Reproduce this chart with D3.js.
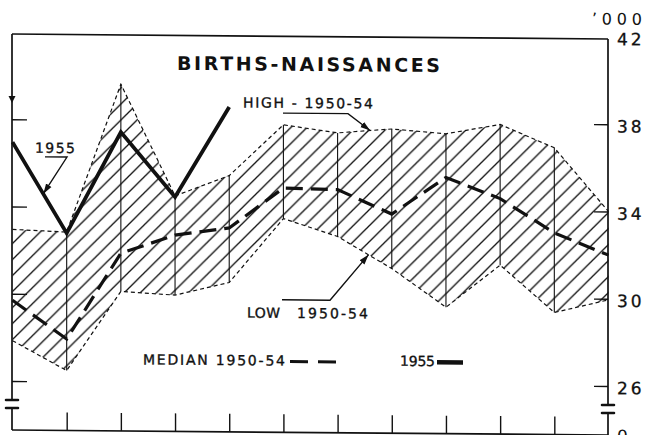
<!DOCTYPE html>
<html>
<head>
<meta charset="utf-8">
<script src="https://cdn.jsdelivr.net/npm/d3@7"></script>
<style>
  body { margin: 0; background: #fff; }
  svg { display: block; }
  text { font-family: "DejaVu Sans", sans-serif; fill: #111; }
</style>
</head>
<body>
<div id="chart"></div>
<script>
const months = ['Jan', 'Feb', 'Mar', 'Apr', 'May', 'Jun', 'Jul', 'Aug', 'Sep', 'Oct', 'Nov', 'Dec'];
// births, thousands
const high = [32.95, 32.85, 39.65, 34.55, 35.5, 37.85, 37.5, 37.7, 37.5, 37.95, 36.9, 34.0];
const low = [27.85, 26.5, 30.15, 30.0, 30.6, 33.55, 32.75, 31.3, 29.55, 31.5, 29.35, 29.95];
const median = [29.7, 27.95, 31.9, 32.75, 33.1, 34.95, 34.9, 33.8, 35.5, 34.55, 33.0, 32.0];
const births1955 = [36.95, 32.8, 37.45, 34.5, 38.65]; // Jan - May
const yTicks = [26, 30, 34, 38, 42];

const W = 647, H = 435;
const frame = { left: 12, right: 608, top: 34, bottom: 430 };
const breakAt = [400, 408];
// the original drawing is a bit tilted, right side sits ~5px lower
const skew = 5 / 595;

const svg = d3.select('#chart')
  .append('svg')
  .attr('width', W)
  .attr('height', H);

const defs = svg.append('defs');

defs.append('pattern')
  .attr('id', 'hatch')
  .attr('patternUnits', 'userSpaceOnUse')
  .attr('width', 16)
  .attr('height', 16)
  .append('path')
  .attr('d', 'M-4,4 L4,-4 M0,16 L16,0 M12,20 L20,12')
  .attr('stroke', '#111')
  .attr('stroke-width', 1.25);

defs.append('marker')
  .attr('id', 'arrow')
  .attr('viewBox', '0 0 10 10')
  .attr('refX', 10)
  .attr('refY', 5)
  .attr('markerWidth', 10)
  .attr('markerHeight', 10)
  .attr('markerUnits', 'userSpaceOnUse')
  .attr('orient', 'auto')
  .append('path')
  .attr('d', 'M0,1.8 L10,5 L0,8.2 Z')
  .attr('fill', '#111');

const g = svg.append('g')
  .attr('transform', 'translate(0,' + (-skew * frame.left) + ') skewY(' + (Math.atan(skew) * 180 / Math.PI) + ')');

const x = d3.scalePoint().domain(months).range([12.5, 608.5]);
const y = d3.scaleLinear().domain([26, 42]).range([381, 32]);
const xi = i => x(months[0]) + i * x.step();

// hatched band between low and high
const idx = d3.range(months.length);
g.append('path')
  .datum(idx)
  .attr('fill', 'url(#hatch)')
  .attr('d', d3.area()
    .x(i => x(months[i]))
    .y0(i => y(low[i]))
    .y1(i => y(high[i])));

// month verticals inside the band
g.append('g')
  .selectAll('line')
  .data(idx.slice(1, -1))
  .enter()
  .append('line')
  .attr('x1', i => x(months[i]))
  .attr('x2', i => x(months[i]))
  .attr('y1', i => y(low[i]))
  .attr('y2', i => y(high[i]))
  .attr('stroke', '#111')
  .attr('stroke-width', 1.1);

const lineOf = arr => d3.line()
  .x((d, i) => x(months[i]))
  .y(d => y(d))(arr);

// high / low envelopes
[high, low].forEach(arr => {
  g.append('path')
    .attr('d', lineOf(arr))
    .attr('fill', 'none')
    .attr('stroke', '#111')
    .attr('stroke-width', 1.2)
    .attr('stroke-dasharray', '4,3');
});

// median
g.append('path')
  .attr('d', lineOf(median))
  .attr('fill', 'none')
  .attr('stroke', '#111')
  .attr('stroke-width', 3.2)
  .attr('stroke-dasharray', '17,8');

// 1955
g.append('path')
  .attr('d', lineOf(births1955))
  .attr('fill', 'none')
  .attr('stroke', '#111')
  .attr('stroke-width', 3.8)
  .attr('stroke-linejoin', 'miter');

// frame with broken axes
const frameLines = [
  [frame.left, frame.top, frame.right, frame.top],
  [frame.left, frame.bottom, frame.right, frame.bottom],
  [frame.left, frame.top, frame.left, breakAt[0]],
  [frame.left, breakAt[1], frame.left, frame.bottom],
  [frame.right, frame.top, frame.right, breakAt[0]],
  [frame.right, breakAt[1], frame.right, frame.bottom]
];
g.append('g')
  .selectAll('line')
  .data(frameLines)
  .enter()
  .append('line')
  .attr('x1', d => d[0]).attr('y1', d => d[1])
  .attr('x2', d => d[2]).attr('y2', d => d[3])
  .attr('stroke', '#111')
  .attr('stroke-width', 1.7);

[frame.left, frame.right].forEach(ax => {
  breakAt.forEach(by => {
    g.append('line')
      .attr('x1', ax - 6).attr('x2', ax + 6)
      .attr('y1', by).attr('y2', by)
      .attr('stroke', '#111')
      .attr('stroke-width', 2.6)
      .attr('stroke-linecap', 'round');
  });
});

// right axis: inward ticks, labels outside
const rightAxis = g.append('g')
  .attr('transform', 'translate(' + frame.right + ',0)')
  .call(d3.axisRight(y).tickValues(yTicks).tickSize(-14).tickPadding(9));
rightAxis.select('.domain').remove();
rightAxis.selectAll('.tick').filter(d => d === 42).select('line').remove();
rightAxis.selectAll('line').attr('stroke', '#111').attr('stroke-width', 1.4);
rightAxis.selectAll('text')
  .attr('dy', '0.45em')
  .style('font-family', '"DejaVu Sans", sans-serif')
  .style('font-size', '17px')
  .style('letter-spacing', '3px')
  .style('stroke', '#111')
  .style('stroke-width', '0.3px')
  .attr('fill', '#111');

// left axis: inward ticks only
const leftAxis = g.append('g')
  .attr('transform', 'translate(' + frame.left + ',0)')
  .call(d3.axisLeft(y).tickValues(yTicks.slice(0, -1)).tickSize(-15).tickFormat(''));
leftAxis.select('.domain').remove();
leftAxis.selectAll('line').attr('stroke', '#111').attr('stroke-width', 1.4);

// month ticks rising from the bottom
const bottomAxis = g.append('g')
  .attr('transform', 'translate(0,' + frame.bottom + ')')
  .call(d3.axisBottom(x).tickValues(months.slice(1, -1)).tickSize(-18).tickFormat(''));
bottomAxis.select('.domain').remove();
bottomAxis.selectAll('line').attr('stroke', '#111').attr('stroke-width', 1.4);

// zero label under the break (cut by the bottom edge, as in the original)
g.append('text')
  .attr('x', frame.right + 9)
  .attr('y', frame.bottom + 7)
  .style('font-size', '17px')
  .text('0');

g.append('text')
  .attr('x', 592)
  .attr('y', 19.5)
  .attr('textLength', 50)
  .attr('lengthAdjust', 'spacing')
  .style('font-size', '16px')
  .text('\u2019000');

// small arrow on the left edge where 1955 enters
g.append('path')
  .attr('d', 'M' + (frame.left - 3.5) + ',96 L' + (frame.left + 3.5) + ',96 L' + frame.left + ',103 Z')
  .attr('fill', '#111');

// title
g.append('text')
  .attr('x', 177)
  .attr('y', 68.5)
  .attr('textLength', 263)
  .attr('lengthAdjust', 'spacing')
  .style('font-size', '19px')
  .style('font-weight', 'bold')
  .text('BIRTHS-NAISSANCES');

// annotations
const note = (txt, x0, yb, len) => g.append('text')
  .attr('x', x0)
  .attr('y', yb)
  .attr('textLength', len)
  .attr('lengthAdjust', 'spacing')
  .style('font-size', '14px')
  .style('stroke', '#111')
  .style('stroke-width', '0.35px')
  .text(txt);

const leader = (pts, tip) => g.append('path')
  .attr('d', d3.line()(pts.concat([[xi(tip[0]), y(tip[1])]])))
  .attr('fill', 'none')
  .attr('stroke', '#111')
  .attr('stroke-width', 1.4)
  .attr('marker-end', 'url(#arrow)');

note('HIGH - 1950-54', 243, 105.5, 130);
leader([[283, 110.8], [348, 110.8]], [6.6, 37.62]);

note('1955', 35, 152.6, 40);
leader([[45, 156.6], [67, 156.6]], [0.57, 34.6]);

note('LOW', 247, 315.6, 33);
note('1950-54', 297, 315.6, 71);
leader([[282, 297.5], [330, 297.5]], [6.57, 31.92]);

note('MEDIAN 1950-54', 143, 363.3, 142);
g.append('line')
  .attr('x1', 290).attr('x2', 340)
  .attr('y1', 359.2).attr('y2', 359.2)
  .attr('stroke', '#111')
  .attr('stroke-width', 3)
  .attr('stroke-dasharray', '18,10');

note('1955', 400, 362.6, 35);
g.append('line')
  .attr('x1', 437).attr('x2', 463)
  .attr('y1', 358.6).attr('y2', 358.6)
  .attr('stroke', '#111')
  .attr('stroke-width', 4.5);
</script>
</body>
</html>
